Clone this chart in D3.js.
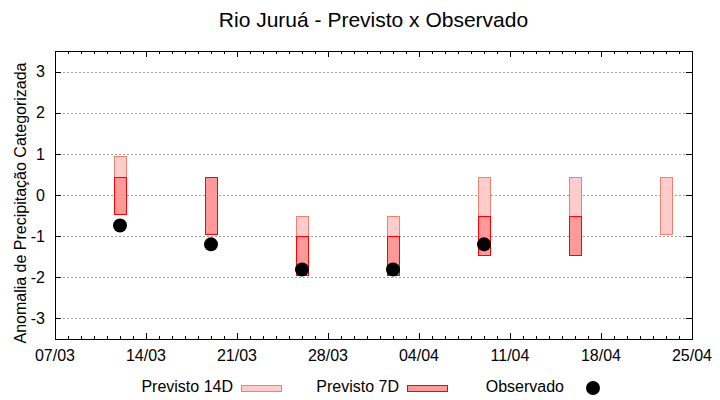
<!DOCTYPE html>
<html>
<head>
<meta charset="utf-8">
<script src="https://cdn.jsdelivr.net/npm/d3@7"></script>
<style>
  body { margin: 0; background: #fff; }
  text { font-family: "Liberation Sans", Arial, sans-serif; fill: #000; }
</style>
</head>
<body>
<div id="chart"></div>
<script>
// data
const dates = ["12/03", "19/03", "26/03", "02/04", "09/04", "16/04", "23/04"];
const prev14Top = [0.94, 0.43, -0.52, -0.52, 0.43, 0.43, 0.43];
const prev14Bottom = [-0.45, -0.96, -1.95, -1.95, -1.45, -1.45, -0.96];
const prev7Top = [0.43, 0.43, -1.0, -1.0, -0.52, -0.52, null];
const prev7Bottom = [-0.45, -0.96, -1.95, -1.95, -1.45, -1.45, null];
const observed = [-0.74, -1.2, -1.81, -1.81, -1.2, null, null];
const xTickLabels = ["07/03", "14/03", "21/03", "28/03", "04/04", "11/04", "18/04", "25/04"];
const yTicks = [-3, -2, -1, 0, 1, 2, 3];

const W = 720, H = 400;
const margin = {top: 51, right: 28, bottom: 61, left: 55};
const width = W - margin.left - margin.right;
const height = H - margin.top - margin.bottom;

const parse = s => {
    const [d, m] = s.split("/").map(Number);
    return new Date(Date.UTC(2023, m - 1, d));
};
const DAY = 864e5;

const svg = d3.select("#chart").append("svg")
    .attr("width", W).attr("height", H);

const x = d3.scaleUtc()
    .domain([parse("07/03"), parse("25/04")])
    .range([margin.left, margin.left + width]);
const y = d3.scaleLinear()
    .domain([-3.5, 3.5])
    .range([margin.top + height, margin.top]);

//gridlines
svg.append("g").selectAll("line")
    .data(yTicks)
    .join("line")
    .attr("x1", margin.left).attr("x2", margin.left + width)
    .attr("y1", d => Math.round(y(d)) + 0.5).attr("y2", d => Math.round(y(d)) + 0.5)
    .attr("stroke", "#a0a0a0")
    .attr("stroke-dasharray", "2,2");

//x axis ticks (daily minor, weekly major), bottom and top
const days = d3.utcDay.range(parse("07/03"), new Date(+parse("25/04") + 1));
const majors = xTickLabels.map(parse);
const isMajor = d => majors.some(m => +m === +d);
const tickG = svg.append("g").attr("stroke", "#000");
tickG.selectAll(".xb")
    .data(days)
    .join("line")
    .attr("x1", d => Math.round(x(d)) + 0.5).attr("x2", d => Math.round(x(d)) + 0.5)
    .attr("y1", margin.top + height)
    .attr("y2", d => margin.top + height - (isMajor(d) ? 6 : 3));
tickG.selectAll(".xt")
    .data(days)
    .join("line")
    .attr("x1", d => Math.round(x(d)) + 0.5).attr("x2", d => Math.round(x(d)) + 0.5)
    .attr("y1", margin.top)
    .attr("y2", d => margin.top + (isMajor(d) ? 6 : 3));
//y ticks left and right
tickG.selectAll(".yl")
    .data(yTicks)
    .join("line")
    .attr("x1", margin.left).attr("x2", margin.left + 6)
    .attr("y1", d => Math.round(y(d)) + 0.5).attr("y2", d => Math.round(y(d)) + 0.5);
tickG.selectAll(".yr")
    .data(yTicks)
    .join("line")
    .attr("x1", margin.left + width - 6).attr("x2", margin.left + width)
    .attr("y1", d => Math.round(y(d)) + 0.5).attr("y2", d => Math.round(y(d)) + 0.5);

//tick labels
svg.append("g").selectAll("text")
    .data(xTickLabels)
    .join("text")
    .attr("x", d => x(parse(d)))
    .attr("y", margin.top + height + 22)
    .attr("text-anchor", "middle")
    .style("font-size", "16px")
    .text(d => d);
svg.append("g").selectAll("text")
    .data(yTicks)
    .join("text")
    .attr("x", margin.left - 10)
    .attr("y", d => y(d))
    .attr("dy", "0.36em")
    .attr("text-anchor", "end")
    .style("font-size", "16px")
    .text(d => d);

//bars
const half = 0.46 * DAY;
const bars = svg.append("g");
bars.selectAll(".p14")
    .data(dates.map((d, i) => ({d, top: prev14Top[i], bot: prev14Bottom[i]})).filter(e => e.top != null))
    .join("rect")
    .attr("x", e => Math.round(x(+parse(e.d) - half)) + 0.5)
    .attr("width", e => Math.round(x(+parse(e.d) + half)) - Math.round(x(+parse(e.d) - half)))
    .attr("y", e => Math.round(y(e.top)) + 0.5)
    .attr("height", e => Math.round(y(e.bot)) - Math.round(y(e.top)))
    .attr("fill", "#ffcccc")
    .attr("stroke", "#f08070");
bars.selectAll(".p7")
    .data(dates.map((d, i) => ({d, top: prev7Top[i], bot: prev7Bottom[i]})).filter(e => e.top != null))
    .join("rect")
    .attr("x", e => Math.round(x(+parse(e.d) - half)) + 0.5)
    .attr("width", e => Math.round(x(+parse(e.d) + half)) - Math.round(x(+parse(e.d) - half)))
    .attr("y", e => Math.round(y(e.top)) + 0.5)
    .attr("height", e => Math.round(y(e.bot)) - Math.round(y(e.top)))
    .attr("fill", "#ff9999")
    .attr("stroke", "#ff0000");

//observed points
svg.append("g").selectAll("circle")
    .data(dates.map((d, i) => ({d, v: observed[i]})).filter(e => e.v != null))
    .join("circle")
    .attr("cx", e => x(parse(e.d)))
    .attr("cy", e => y(e.v))
    .attr("r", 7)
    .attr("fill", "#000");

//frame
svg.append("rect")
    .attr("x", margin.left + 0.5).attr("y", margin.top + 0.5)
    .attr("width", width).attr("height", height)
    .attr("fill", "none").attr("stroke", "#000");

//title
svg.append("text")
    .attr("x", margin.left + width / 2)
    .attr("y", 27)
    .attr("text-anchor", "middle")
    .style("font-size", "21px")
    .text("Rio Juruá - Previsto x Observado");

//y label
svg.append("text")
    .attr("transform", "translate(26,203) rotate(-90)")
    .attr("text-anchor", "middle")
    .style("font-size", "16px")
    .text("Anomalia de Precipitação Categorizada");

//legend
const legend = svg.append("g");
legend.append("text").attr("x", 233).attr("y", 392).attr("text-anchor", "end")
    .style("font-size", "16px").text("Previsto 14D");
legend.append("rect").attr("x", 241.5).attr("y", 385.5).attr("width", 40).attr("height", 6)
    .attr("fill", "#ffcccc").attr("stroke", "#f08070");
legend.append("text").attr("x", 399).attr("y", 392).attr("text-anchor", "end")
    .style("font-size", "16px").text("Previsto 7D");
legend.append("rect").attr("x", 407.5).attr("y", 385.5).attr("width", 40).attr("height", 6)
    .attr("fill", "#ff9999").attr("stroke", "#ff0000");
legend.append("text").attr("x", 564).attr("y", 392).attr("text-anchor", "end")
    .style("font-size", "16px").text("Observado");
legend.append("circle").attr("cx", 593).attr("cy", 388).attr("r", 7).attr("fill", "#000");
</script>
</body>
</html>
